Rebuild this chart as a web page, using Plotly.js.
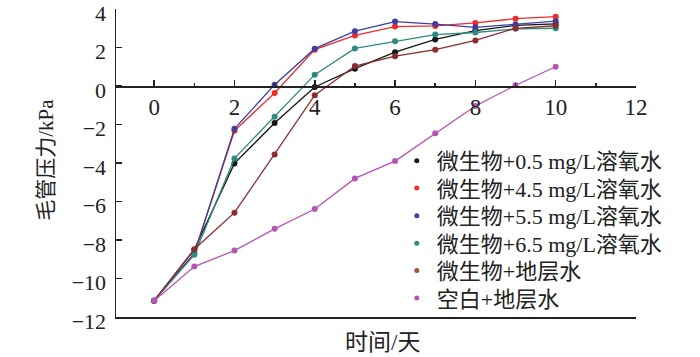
<!DOCTYPE html>
<html>
<head>
<meta charset="utf-8">
<script src="https://cdn.plot.ly/plotly-3.0.1.min.js"></script>
<style>html,body{margin:0;padding:0;background:#fff;}#chart{width:700px;height:357px;}</style>
</head>
<body>
<div id="chart"></div>
<script>
var days = [0, 1, 2, 3, 4, 5, 6, 7, 8, 9, 10];
var seriesNames = [
  "微生物+0.5 mg/L溶氧水",
  "微生物+4.5 mg/L溶氧水",
  "微生物+5.5 mg/L溶氧水",
  "微生物+6.5 mg/L溶氧水",
  "微生物+地层水",
  "空白+地层水"
];
var do05 = [-11.15, -8.5, -4.02, -1.92, -0.05, 0.9, 1.76, 2.42, 2.88, 3.15, 3.23];
var do45 = [-11.15, -8.7, -2.33, -0.36, 1.89, 2.63, 3.09, 3.12, 3.28, 3.5, 3.6];
var do55 = [-11.15, -8.7, -2.22, 0.07, 1.94, 2.85, 3.35, 3.22, 3.05, 3.2, 3.37];
var do65 = [-11.15, -8.77, -3.76, -1.6, 0.59, 1.95, 2.32, 2.67, 2.78, 2.97, 3.0];
var formation = [-11.15, -8.48, -6.58, -3.56, -0.48, 1.04, 1.55, 1.89, 2.37, 3.0, 3.13];
var blank = [-11.15, -9.38, -8.55, -7.42, -6.39, -4.8, -3.9, -2.46, -1.04, 0.04, 1.0];
var seriesValues = [do05, do45, do55, do65, formation, blank];
var xTickVals = [0, 2, 4, 6, 8, 10, 12];
var yTickVals = [-12, -10, -8, -6, -4, -2, 0, 2, 4];

var lineColors = ["#151515", "#ee2b2b", "#3d3f9e", "#2e8a80", "#8a2c2c", "#b455b4"];
var legendColors = ["#151515", "#ee2b2b", "#3d3f9e", "#2e8a80", "#a0503e", "#b455b4"];
var legendRowY = [0.507, 0.418, 0.328, 0.239, 0.150, 0.061];

var serif = "Liberation Serif, Times New Roman, Noto Sans CJK SC, serif";
var traces = [];
for (var i = 0; i < seriesValues.length; i++) {
  traces.push({
    x: days, y: seriesValues[i], type: "scatter", mode: "lines+markers",
    name: seriesNames[i], showlegend: false,
    line: {color: lineColors[i], width: 1.3},
    marker: {color: lineColors[i], size: 6},
    xaxis: "x", yaxis: "y"
  });
}
var layout = {
  width: 700, height: 357,
  margin: {l: 116, r: 64, t: 9, b: 40},
  paper_bgcolor: "#fff", plot_bgcolor: "#fff",
  showlegend: true,
  xaxis: {
    range: [-0.95, 12], anchor: "free", position: 0.75,
    tickmode: "array", tickvals: xTickVals,
    ticks: "inside", ticklen: 6, tickwidth: 1.5, tickcolor: "#222",
    minor: {dtick: 1, ticks: "inside", ticklen: 3, tickwidth: 1.5, tickcolor: "#222", showgrid: false},
    showline: true, linecolor: "#222", linewidth: 1.5,
    showgrid: false, zeroline: false, ticklabeloverflow: "allow",
    tickfont: {family: serif, size: 23, color: "#222"}
  },
  xaxis2: {
    range: [-0.95, 12], overlaying: "x", anchor: "y", side: "bottom",
    showline: true, linecolor: "#222", linewidth: 1.5,
    ticks: "", showticklabels: false, showgrid: false, zeroline: false
  },
  yaxis: {
    range: [-12, 4.001], domain: [0, 1],
    tickmode: "array", tickvals: yTickVals,
    ticks: "inside", ticklen: 6, tickwidth: 1.5, tickcolor: "#222",
    ticklabelstandoff: 4, ticklabelshift: 4, ticklabeloverflow: "allow",
    showline: true, linecolor: "#222", linewidth: 1.5,
    showgrid: false, zeroline: false,
    tickfont: {family: serif, size: 22, color: "#222"}
  },
  annotations: [
    {text: "毛管压力/kPa", textangle: -90, xref: "paper", yref: "paper",
     x: -0.135, y: 0.51, xanchor: "center", yanchor: "middle", showarrow: false,
     font: {family: serif, size: 21, color: "#222"}},
    {text: "时间/天", xref: "paper", yref: "paper",
     x: 0.512, y: -0.082, xanchor: "center", yanchor: "middle", showarrow: false,
     font: {family: serif, size: 23, color: "#222"}}
  ]
};
for (var j = 0; j < seriesNames.length; j++) {
  var key = j === 0 ? "legend" : "legend" + (j + 1);
  traces.push({
    x: [null], y: [null], type: "scatter", mode: "markers",
    name: seriesNames[j], showlegend: true, legend: key,
    marker: {color: legendColors[j], size: 5},
    xaxis: "x2", yaxis: "y"
  });
  layout[key] = {
    x: 0.54, y: legendRowY[j], xanchor: "left", yanchor: "middle",
    bgcolor: "rgba(0,0,0,0)", borderwidth: 0,
    font: {family: serif, size: 22, color: "#222"},
    itemwidth: 30
  };
}

Plotly.newPlot("chart", traces, layout, {displayModeBar: false, staticPlot: true});
</script>
</body>
</html>
